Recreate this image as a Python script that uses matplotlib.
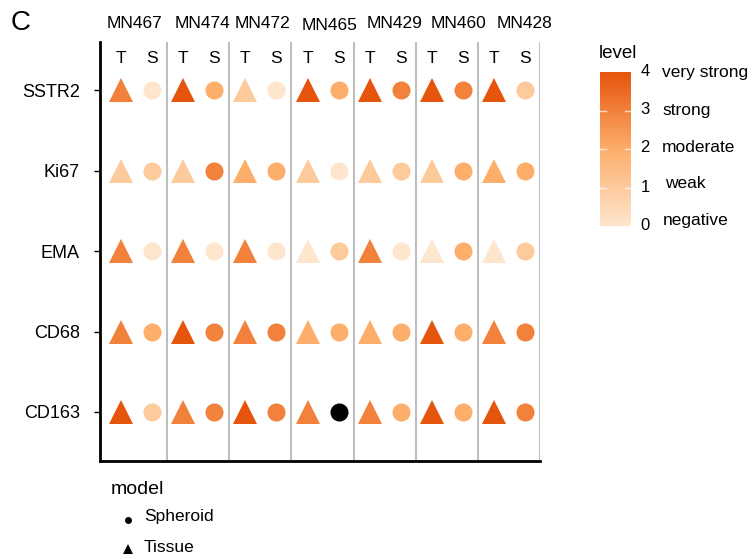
import numpy as np
import matplotlib
matplotlib.use("Agg")
import matplotlib.pyplot as plt
from matplotlib.colors import LinearSegmentedColormap

plt.rcParams['font.family'] = ['Liberation Sans', 'DejaVu Sans']

# --- datos ---
samples = ["MN467", "MN474", "MN472", "MN465", "MN429", "MN460", "MN428"]
markers = ["SSTR2", "Ki67", "EMA", "CD68", "CD163"]

# nivel de expresion (0-4), filas = markers, columnas = samples
tissue_level = [
    [3, 4, 1, 4, 4, 4, 4],
    [1, 1, 2, 1, 1, 1, 2],
    [3, 3, 3, 0, 3, 0, 0],
    [3, 4, 3, 2, 2, 4, 3],
    [4, 3, 4, 3, 3, 4, 4],
]
spheroid_level = [
    [0, 2, 0, 2, 3, 3, 1],
    [1, 3, 2, 0, 1, 2, 2],
    [0, 0, 0, 1, 0, 2, 1],
    [2, 3, 3, 2, 2, 2, 3],
    [1, 3, 3, np.nan, 2, 2, 3],
]
level_ticks = [0, 1, 2, 3, 4]
level_names = ["negative", "weak", "moderate", "strong", "very strong"]

cmap = LinearSegmentedColormap.from_list("lvl", ["#FEE6CE", "#FDAE6B", "#E6550D"])

W, H = 752, 559
fig = plt.figure(figsize=(W / 100, H / 100), dpi=100)

def fx(px):
    return px / W

def fy(py):
    return 1 - py / H

ax = fig.add_axes([fx(100), fy(461), fx(540) - fx(100), fy(42) - fy(461)])

t_off, s_off = 0.26, 0.76
for j, smp in enumerate(samples):
    for i, mk in enumerate(markers):
        tv = tissue_level[i][j]
        sv = spheroid_level[i][j]
        ax.plot(j + t_off, i, marker='^', ms=17, mew=0, color=cmap(tv / 4))
        col = 'black' if np.isnan(sv) else cmap(sv / 4)
        ax.plot(j + s_off, i, marker='o', ms=13, mew=0, color=col)
    ax.axvline(j + 1, color='#BEBEBE', lw=1.5)
    ax.text(j + t_off, -0.4, "T", ha='center', va='center', fontsize=12.5)
    ax.text(j + s_off, -0.4, "S", ha='center', va='center', fontsize=12.5)

ax.set_xlim(-0.08, 7)
ax.set_ylim(4.61, -0.6)
ax.set_yticks(range(len(markers)))
ax.set_yticklabels(markers, fontsize=13)
ax.set_xticks([])
ax.tick_params(axis='y', length=4, width=1, pad=10.5)
ax.spines['top'].set_visible(False)
ax.spines['right'].set_visible(False)
ax.spines['left'].set_linewidth(2)
ax.spines['bottom'].set_linewidth(2)

# nombres de muestra arriba
name_x = [135, 202, 263, 330, 395, 459, 525]
name_y = [23, 23, 23, 25, 23, 23, 23]
for nx, ny, smp in zip(name_x, name_y, samples):
    fig.text(fx(nx), fy(ny), smp, ha='center', va='center', fontsize=12.5)

fig.text(fx(11), fy(23), "C", ha='left', va='center', fontsize=20)

# --- barra de color ---
cax = fig.add_axes([fx(600), fy(226), fx(631) - fx(600), fy(72) - fy(226)])
grad = np.linspace(0, 4, 256).reshape(-1, 1)
cax.imshow(grad, aspect='auto', cmap=cmap, origin='lower', extent=[0, 1, 0, 4])
for lv in [1, 2, 3]:
    cax.plot([0, 0.2], [lv, lv], color='white', lw=1, alpha=0.7)
    cax.plot([0.8, 1], [lv, lv], color='white', lw=1, alpha=0.7)
cax.set_xlim(0, 1)
cax.set_ylim(0, 4)
cax.axis('off')

fig.text(fx(599), fy(53), "level", ha='left', va='center', fontsize=13.5)
num_y = [226, 188, 148, 110, 72]
word_y = [221, 183, 148, 110, 72]
word_x = [663, 665, 662, 662, 662]
for lv, name, ny, wy, wx in zip(level_ticks, level_names, num_y, word_y, word_x):
    fig.text(fx(645), fy(ny), str(lv), ha='center', va='center', fontsize=12)
    fig.text(fx(wx), fy(wy), name, ha='left', va='center', fontsize=12.5)

# --- leyenda de forma ---
fig.text(fx(111), fy(490), "model", ha='left', va='center', fontsize=14)
lax = fig.add_axes([0, 0, 1, 1], facecolor='none')
lax.set_xlim(0, W)
lax.set_ylim(H, 0)
lax.axis('off')
lax.plot([128], [520], marker='o', ms=5, color='black', mew=0)
lax.plot([128], [549], marker='^', ms=7, color='black', mew=0)
fig.text(fx(144), fy(516), "Spheroid", ha='left', va='center', fontsize=12.5)
fig.text(fx(144), fy(548), "Tissue", ha='left', va='center', fontsize=12.5)

fig.savefig("out.png", dpi=100)
